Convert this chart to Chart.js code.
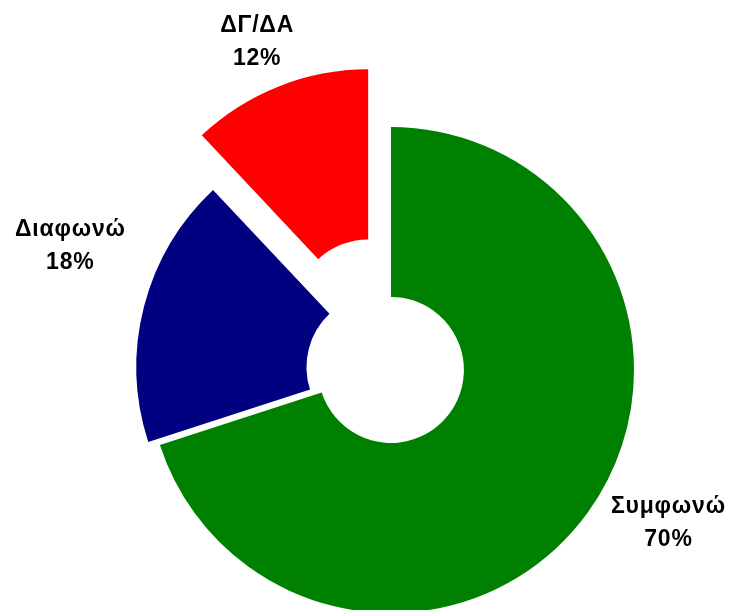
<!DOCTYPE html>
<html>
<head>
<meta charset="utf-8">
<script src="https://cdn.jsdelivr.net/npm/chart.js@4.4.1/dist/chart.umd.min.js"></script>
<style>
  html, body { margin: 0; padding: 0; background: #ffffff; }
  #wrap { width: 732px; height: 610px; position: relative; }
</style>
</head>
<body>
<div id="wrap"><canvas id="c" width="732" height="610"></canvas></div>
<script>
// ---- data ----
const categories = ['Συμφωνώ', 'Διαφωνώ', 'ΔΓ/ΔΑ'];
const values = [70, 18, 12];

// ---- styling (not data) ----
const sliceColors = ['#008000', '#000080', '#FF0000'];
const layoutCfg = {
  explode: [0, 12, 62],            // px each slice is pulled out along its mid angle
  labelRadius: [1.304, 1.366, 1.204], // label distance as multiple of outer radius
  labelAngleShift: [-7.1, 7.0, -0.7], // degrees
  lineGap: 33,
  font: 'bold 23px "Liberation Sans", Arial, sans-serif',
  letterSpacing: '0.8px'
};

const explodePlugin = {
  id: 'explodeSlices',
  beforeDatasetDraw(chart, args) {
    const ctx = chart.ctx;
    args.meta.data.forEach((arc, i) => {
      const mid = (arc.startAngle + arc.endAngle) / 2;
      const d = layoutCfg.explode[i] || 0;
      ctx.save();
      ctx.translate(Math.cos(mid) * d, Math.sin(mid) * d);
      arc.draw(ctx);
      ctx.restore();
    });
    return false;
  }
};

const labelPlugin = {
  id: 'sliceLabels',
  afterDatasetsDraw(chart) {
    const ctx = chart.ctx;
    const meta = chart.getDatasetMeta(0);
    const data = chart.data.datasets[0].data;
    const total = data.reduce((a, b) => a + b, 0);
    ctx.save();
    ctx.font = layoutCfg.font;
    if ('letterSpacing' in ctx) ctx.letterSpacing = layoutCfg.letterSpacing;
    ctx.fillStyle = '#000000';
    ctx.textAlign = 'center';
    ctx.textBaseline = 'middle';
    meta.data.forEach((arc, i) => {
      const mid = (arc.startAngle + arc.endAngle) / 2;
      const d = layoutCfg.explode[i] || 0;
      const cx = arc.x + Math.cos(mid) * d;
      const cy = arc.y + Math.sin(mid) * d;
      const a = mid + layoutCfg.labelAngleShift[i] * Math.PI / 180;
      const r = arc.outerRadius * layoutCfg.labelRadius[i];
      const x = cx + Math.cos(a) * r;
      const y = cy + Math.sin(a) * r;
      const pct = Math.round(data[i] / total * 100) + '%';
      ctx.fillText(chart.data.labels[i], x, y - layoutCfg.lineGap / 2);
      ctx.fillText(pct, x, y + layoutCfg.lineGap / 2);
    });
    ctx.restore();
  }
};

new Chart(document.getElementById('c'), {
  type: 'doughnut',
  data: {
    labels: categories,
    datasets: [{
      data: values,
      backgroundColor: sliceColors,
      borderWidth: 0,
      hoverOffset: 0
    }]
  },
  options: {
    responsive: false,
    animation: false,
    devicePixelRatio: 1,
    radius: 243,
    cutout: '30%',
    layout: { padding: { left: 50, top: 130, right: 0, bottom: 0 } },
    plugins: {
      legend: { display: false },
      tooltip: { enabled: false }
    },
    events: []
  },
  plugins: [explodePlugin, labelPlugin]
});
</script>
</body>
</html>
